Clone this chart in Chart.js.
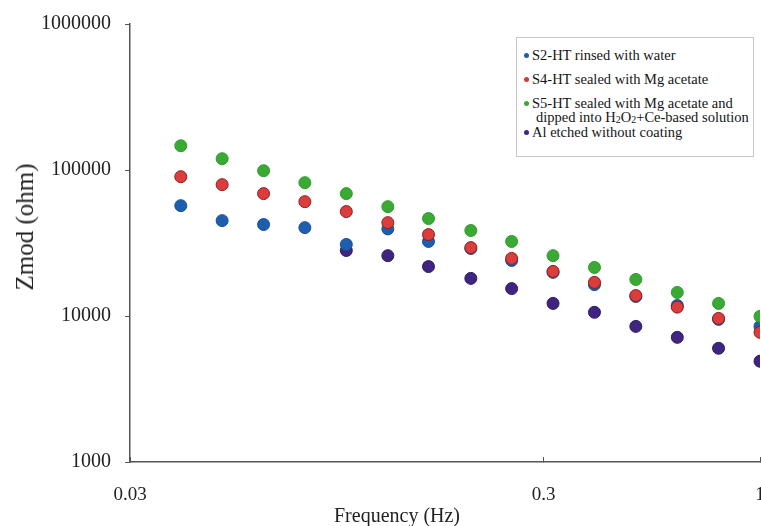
<!DOCTYPE html>
<html><head><meta charset="utf-8">
<script src="https://cdn.jsdelivr.net/npm/chart.js@4.4.0/dist/chart.umd.min.js"></script>
<style>
html,body{margin:0;padding:0;background:#fff;}
#wrap{position:relative;width:761px;height:526px;overflow:hidden;}
#legend{position:absolute;left:516px;top:37px;width:238px;height:120px;border:1px solid #c6c6c6;box-sizing:border-box;font-family:"Liberation Serif","Times New Roman",serif;font-size:14.5px;color:#151515;background:#fff;}
.item{position:absolute;left:7px;white-space:nowrap;line-height:16px;}
.dot{display:inline-block;width:5px;height:5px;border-radius:50%;margin-right:3px;vertical-align:2px;}
.indent{padding-left:12px;}
sub{font-size:10px;vertical-align:-1px;line-height:0;}
.ttl{position:absolute;font-family:"Liberation Serif","Times New Roman",serif;color:#222;white-space:nowrap;}
#xtitle{left:397px;top:505px;transform:translateX(-50%);font-size:20px;line-height:20px;}
#ytitle{left:25px;top:227px;transform:translate(-50%,-50%) rotate(-90deg);font-size:25px;line-height:26px;}
</style></head><body>
<div id="wrap"><canvas id="c" width="761" height="526"></canvas>
<div id="legend">
 <div class="item" style="top:9px"><span class="dot" style="background:#1d5fae"></span>S2-HT rinsed with water</div>
 <div class="item" style="top:33px"><span class="dot" style="background:#d43a3a"></span>S4-HT sealed with Mg acetate</div>
 <div class="item" style="top:57px"><span class="dot" style="background:#3aaa35"></span>S5-HT sealed with Mg acetate and</div>
 <div class="item indent" style="top:71px">dipped into H<sub>2</sub>O<sub>2</sub>+Ce-based solution</div>
 <div class="item" style="top:86px"><span class="dot" style="background:#3f2580"></span>Al etched without coating</div>
</div>
<div id="xtitle" class="ttl">Frequency (Hz)</div>
<div id="ytitle" class="ttl">Zmod (ohm)</div>
</div>
<script>
const freq = [0.0398,0.0501,0.0631,0.0794,0.1,0.126,0.158,0.2,0.251,0.316,0.398,0.501,0.631,0.794,1.0];
const freqAl = [0.1,0.126,0.158,0.2,0.251,0.316,0.398,0.501,0.631,0.794,1.0];
const s2 = [57000,45000,42300,40300,30900,39500,32400,29000,24000,19900,16400,13600,11800,9480,8490];
const s4 = [90000,79400,68900,60700,51900,43600,36100,29400,24800,20200,17000,13800,11500,9630,7730];
const s5 = [146600,119500,98900,81900,68900,56100,46500,38500,32400,25900,21500,17800,14500,12200,9940];
const al = [28100,25900,21800,18100,15400,12200,10600,8490,7140,6010,4900];
const xTicks = [0.03,0.3,1];
const yTicks = [1000,10000,100000,1000000];

const pts = (xs, ys) => xs.map((x,i)=>({x:x,y:ys[i]}));
const serif = "'Liberation Serif','Times New Roman',serif";

new Chart(document.getElementById('c'), {
  type:'scatter',
  data:{datasets:[
    {label:'S5-HT sealed with Mg acetate and dipped into H2O2+Ce-based solution', data:pts(freq,s5), backgroundColor:'#3aaa35', borderColor:'#2f9a2c'},
    {label:'S4-HT sealed with Mg acetate', data:pts(freq,s4), backgroundColor:'#db3c3c', borderColor:'#8c2020'},
    {label:'S2-HT rinsed with water', data:pts(freq,s2), backgroundColor:'#1d5fae', borderColor:'#184f94'},
    {label:'Al etched without coating', data:pts(freqAl,al), backgroundColor:'#3f2580', borderColor:'#2e1a66'}
  ]},
  options:{
    responsive:false, animation:false, devicePixelRatio:1,
    layout:{autoPadding:false,padding:{top:24,right:1,left:0,bottom:0}},
    elements:{point:{radius:6,borderWidth:1,hoverRadius:6}},
    plugins:{legend:{display:false},tooltip:{enabled:false}},
    scales:{
      x:{type:'logarithmic',min:0.03,max:1,
        afterBuildTicks:s=>{s.ticks=xTicks.map(v=>({value:v}));},
        afterFit:s=>{s.height=64;s.paddingLeft=0;s.paddingRight=0;},
        ticks:{autoSkip:false,maxRotation:0,padding:27,color:'#222',font:{family:serif,size:19},callback:v=>String(v)},
        grid:{display:true,drawOnChartArea:false,tickLength:-5,color:'#555'},
        border:{display:true,color:'#555',width:1.5},
        title:{display:false}
      },
      y:{type:'logarithmic',min:1000,max:1000000,
        afterBuildTicks:s=>{s.ticks=yTicks.map(v=>({value:v}));},
        afterFit:s=>{s.width=130;s.paddingTop=0;s.paddingBottom=0;},
        ticks:{autoSkip:false,padding:14,color:'#222',font:{family:serif,size:20},callback:v=>String(v)},
        grid:{display:true,drawOnChartArea:false,tickLength:5,color:'#555'},
        border:{display:true,color:'#555',width:1.5},
        title:{display:false}
      }
    }
  }
});
</script>
</body></html>
